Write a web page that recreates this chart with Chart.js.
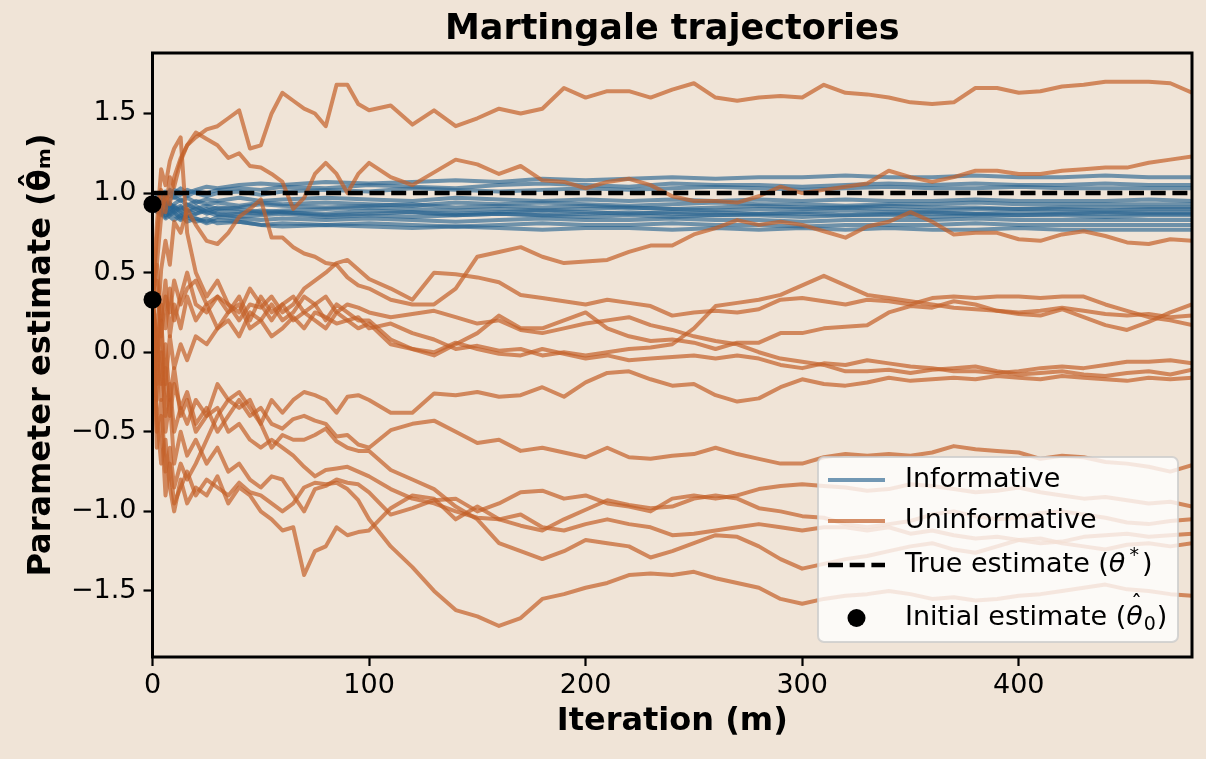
<!DOCTYPE html>
<html lang="en">
<head>
    <meta charset="UTF-8">
    <title>Martingale trajectories</title>
    <style>
        body {
            margin: 0;
            background-color: #f0e4d7;
        }
        #chart {
            display: block;
            background-color: #f0e4d7;
        }
    </style>
</head>
<body>
    <canvas id="chart" width="1206" height="759"></canvas>
    <script src="https://cdn.jsdelivr.net/npm/chart.js@4.4.1/dist/chart.umd.min.js"></script>
    <script>
        const FONT = '"DejaVu Sans", sans-serif';

        // ticks
        const xTicks = [0, 100, 200, 300, 400];
        const yTicks = [-1.5, -1.0, -0.5, 0.0, 0.5, 1.0, 1.5];

        const trueTheta = 1.0;
        const initX = [0, 0];
        const initY = [0.93, 0.33];

        // iterations sampled for the uninformative runs
        const iterU = [0, 2, 4, 6, 8, 10, 13, 16, 20, 25,
            30, 35, 40, 45, 50, 55, 60, 65, 70, 75, 80, 85, 90, 95, 100,
            110, 120, 130, 140, 150, 160, 170, 180, 190, 200, 210, 220, 230, 240, 250, 260, 270, 280, 290,
            300, 310, 320, 330, 340, 350, 360, 370, 380, 390, 400, 410, 420, 430, 440, 450, 460, 470, 480];

        const u1 = [0.33, 0.72, 1.02, 0.88, 1.10, 1.04, 1.20, 1.30, 1.35, 1.40,
            1.42, 1.47, 1.52, 1.28, 1.30, 1.50, 1.63, 1.58, 1.53, 1.50, 1.42, 1.68, 1.68, 1.56, 1.52,
            1.55, 1.43, 1.52, 1.42, 1.47, 1.53, 1.50, 1.53, 1.66, 1.60, 1.64, 1.64, 1.60, 1.65, 1.69, 1.60, 1.58, 1.60, 1.61,
            1.60, 1.68, 1.63, 1.62, 1.60, 1.57, 1.56, 1.57, 1.66, 1.66, 1.63, 1.64, 1.67, 1.68, 1.70, 1.70, 1.70, 1.69, 1.63];
        const u2 = [0.33, 0.55, 0.85, 1.00, 0.93, 1.10, 1.22, 1.30, 1.38, 1.34,
            1.30, 1.22, 1.25, 1.17, 1.16, 1.12, 1.07, 0.90, 0.97, 1.12, 1.19, 1.12, 1.00, 1.12, 1.19,
            1.10, 1.05, 1.13, 1.21, 1.18, 1.12, 1.17, 1.08, 1.07, 1.03, 1.07, 1.09, 1.05, 0.98, 0.95, 0.95, 0.94, 0.98, 1.04,
            1.00, 1.02, 1.04, 1.06, 1.14, 1.10, 1.07, 1.10, 1.14, 1.14, 1.12, 1.12, 1.14, 1.15, 1.16, 1.16, 1.19, 1.21, 1.23];
        const u3 = [0.33, 0.10, 0.52, 0.70, 0.55, 0.82, 0.75, 0.90, 0.80, 0.70,
            0.68, 0.75, 0.85, 0.90, 0.96, 0.72, 0.72, 0.66, 0.62, 0.60, 0.56, 0.55, 0.47, 0.42, 0.40,
            0.33, 0.30, 0.30, 0.40, 0.60, 0.63, 0.66, 0.60, 0.56, 0.57, 0.58, 0.63, 0.67, 0.67, 0.74, 0.78, 0.83, 0.80, 0.82,
            0.80, 0.76, 0.72, 0.79, 0.82, 0.88, 0.82, 0.74, 0.75, 0.75, 0.71, 0.70, 0.74, 0.76, 0.73, 0.69, 0.68, 0.71, 0.70];
        const u4 = [0.33, 0.80, 1.15, 1.05, 1.20, 1.28, 1.35, 0.75, 0.50, 0.35,
            0.45, 0.30, 0.25, 0.40, 0.30, 0.20, 0.30, 0.20, 0.25, 0.20, 0.15, 0.25, 0.20, 0.15, 0.18,
            0.05, 0.02, -0.02, 0.05, 0.12, 0.23, 0.15, 0.15, 0.20, 0.25, 0.15, 0.10, 0.07, 0.08, 0.06, 0.02, 0.06, 0.06, 0.12,
            0.12, 0.15, 0.16, 0.17, 0.25, 0.29, 0.28, 0.32, 0.30, 0.26, 0.24, 0.23, 0.27, 0.22, 0.17, 0.14, 0.19, 0.25, 0.30];
        const u5 = [0.33, 0.00, 0.30, 0.15, 0.40, 0.20, 0.35, 0.50, 0.30, 0.25,
            0.35, 0.30, 0.20, 0.30, 0.28, 0.35, 0.25, 0.30, 0.40, 0.45, 0.50, 0.56, 0.58, 0.52, 0.46,
            0.40, 0.33, 0.50, 0.49, 0.47, 0.44, 0.36, 0.34, 0.32, 0.30, 0.33, 0.31, 0.29, 0.23, 0.25, 0.26, 0.25, 0.27, 0.33,
            0.34, 0.32, 0.30, 0.33, 0.32, 0.30, 0.34, 0.35, 0.34, 0.35, 0.35, 0.34, 0.35, 0.35, 0.30, 0.26, 0.22, 0.20, 0.17];
        const u6 = [0.33, 0.55, 0.20, 0.45, 0.10, 0.30, 0.15, 0.35, 0.20, 0.30,
            0.15, 0.25, 0.30, 0.15, 0.20, 0.10, 0.15, 0.22, 0.15, 0.25, 0.22, 0.18, 0.20, 0.22, 0.15,
            0.18, 0.12, 0.08, 0.02, 0.04, 0.01, 0.02, -0.02, 0.00, -0.02, 0.00, 0.02, 0.03, 0.05, 0.15, 0.29, 0.31, 0.33, 0.36,
            0.42, 0.48, 0.42, 0.36, 0.34, 0.32, 0.30, 0.28, 0.27, 0.26, 0.25, 0.26, 0.28, 0.26, 0.24, 0.23, 0.24, 0.22, 0.23];
        const u7 = [0.33, -0.10, 0.20, -0.20, 0.10, -0.10, 0.05, -0.05, 0.10, 0.05,
            0.15, 0.20, 0.10, 0.25, 0.20, 0.30, 0.20, 0.25, 0.35, 0.30, 0.20, 0.30, 0.25, 0.20, 0.20,
            0.08, 0.02, 0.00, 0.06, 0.02, -0.01, -0.02, 0.02, -0.01, -0.04, -0.02, -0.05, -0.04, -0.03, -0.02, -0.04, -0.02, -0.04, -0.08,
            -0.10, -0.07, -0.08, -0.05, -0.07, -0.09, -0.10, -0.12, -0.12, -0.13, -0.12, -0.10, -0.09, -0.10, -0.08, -0.06, -0.06, -0.05, -0.07];
        const u8 = [0.33, 0.45, 0.10, 0.35, 0.25, 0.45, 0.30, 0.40, 0.45, 0.30,
            0.35, 0.25, 0.35, 0.20, 0.35, 0.25, 0.30, 0.35, 0.25, 0.30, 0.35, 0.25, 0.30, 0.28, 0.25,
            0.22, 0.24, 0.26, 0.22, 0.18, 0.20, 0.14, 0.12, 0.15, 0.18, 0.20, 0.22, 0.17, 0.14, 0.10, 0.07, 0.05, 0.00, -0.04,
            -0.06, -0.08, -0.12, -0.12, -0.11, -0.13, -0.11, -0.10, -0.09, -0.12, -0.14, -0.13, -0.12, -0.14, -0.15, -0.13, -0.12, -0.14, -0.11];
        const u9 = [0.33, -0.30, 0.00, -0.40, -0.20, -0.50, -0.35, -0.45, -0.30, -0.40,
            -0.20, -0.30, -0.25, -0.35, -0.45, -0.30, -0.38, -0.30, -0.25, -0.27, -0.30, -0.38, -0.28, -0.27, -0.30,
            -0.38, -0.38, -0.26, -0.27, -0.25, -0.28, -0.27, -0.22, -0.28, -0.19, -0.13, -0.12, -0.17, -0.21, -0.20, -0.27, -0.31, -0.29, -0.22,
            -0.17, -0.20, -0.21, -0.19, -0.16, -0.18, -0.17, -0.16, -0.17, -0.15, -0.16, -0.17, -0.15, -0.16, -0.17, -0.18, -0.16, -0.17, -0.16];
        const u10 = [0.33, 0.00, -0.30, -0.10, -0.40, -0.20, -0.35, -0.25, -0.45, -0.35,
            -0.50, -0.40, -0.30, -0.40, -0.35, -0.45, -0.48, -0.42, -0.40, -0.43, -0.45, -0.53, -0.52, -0.58, -0.60,
            -0.49, -0.45, -0.43, -0.50, -0.57, -0.55, -0.62, -0.60, -0.63, -0.66, -0.60, -0.66, -0.67, -0.65, -0.64, -0.60, -0.64, -0.67, -0.70,
            -0.70, -0.66, -0.64, -0.65, -0.64, -0.65, -0.63, -0.59, -0.61, -0.62, -0.63, -0.67, -0.65, -0.66, -0.69, -0.70, -0.72, -0.75, -0.71];
        const u11 = [0.33, -0.20, 0.20, -0.50, -0.30, -0.70, -0.50, -0.65, -0.55, -0.70,
            -0.60, -0.75, -0.70, -0.80, -0.85, -0.78, -0.80, -0.90, -1.00, -0.86, -0.84, -0.80, -0.82, -0.83, -0.88,
            -1.02, -0.98, -0.93, -0.92, -1.00, -0.95, -0.88, -0.87, -0.92, -0.90, -0.95, -0.97, -1.00, -0.92, -0.90, -0.92, -0.90, -0.86, -0.84,
            -0.83, -0.84, -0.85, -0.87, -0.86, -0.83, -0.84, -0.86, -0.88, -0.87, -0.85, -0.88, -0.90, -0.92, -0.91, -0.93, -0.95, -0.94, -0.97];
        const u12 = [0.33, 0.10, -0.20, 0.05, -0.30, -0.10, -0.40, -0.30, -0.50, -0.40,
            -0.35, -0.50, -0.45, -0.55, -0.60, -0.55, -0.60, -0.65, -0.72, -0.78, -0.74, -0.73, -0.72, -0.75, -0.78,
            -0.86, -0.92, -0.95, -1.00, -1.04, -1.05, -1.09, -1.12, -1.05, -0.99, -0.93, -0.96, -0.98, -0.97, -0.92, -0.90, -0.92, -0.98, -1.00,
            -1.03, -1.04, -1.08, -1.10, -1.08, -1.06, -1.02, -1.00, -1.03, -1.05, -1.04, -1.01, -1.00, -1.02, -1.04, -1.07, -1.08, -1.06, -1.05];
        const u13 = [0.33, -0.40, -0.70, -0.55, -0.85, -1.00, -0.80, -0.95, -0.85, -0.90,
            -0.78, -0.95, -0.85, -0.90, -1.00, -1.05, -1.12, -1.10, -1.40, -1.25, -1.22, -1.10, -1.15, -1.13, -1.12,
            -0.98, -0.90, -0.92, -1.05, -0.97, -1.05, -1.02, -1.10, -1.12, -1.08, -1.05, -1.08, -1.10, -1.15, -1.14, -1.12, -1.10, -1.08, -1.10,
            -1.12, -1.10, -1.10, -1.12, -1.10, -1.14, -1.12, -1.15, -1.17, -1.16, -1.18, -1.20, -1.19, -1.16, -1.15, -1.14, -1.16, -1.15, -1.14];
        const u14 = [0.33, -0.50, -0.30, -0.75, -0.60, -0.85, -0.70, -0.80, -0.70, -0.55,
            -0.40, -0.30, -0.35, -0.30, -0.45, -0.60, -0.52, -0.55, -0.55, -0.52, -0.48, -0.56, -0.60, -0.62, -0.62,
            -0.74, -0.80, -0.86, -0.97, -1.05, -1.20, -1.25, -1.30, -1.25, -1.18, -1.20, -1.22, -1.29, -1.25, -1.20, -1.15, -1.16, -1.22, -1.30,
            -1.36, -1.33, -1.30, -1.28, -1.25, -1.22, -1.20, -1.24, -1.26, -1.22, -1.18, -1.17, -1.20, -1.22, -1.24, -1.21, -1.20, -1.22, -1.20];
        const u15 = [0.33, -0.60, -0.40, -0.90, -0.70, -0.95, -0.85, -0.75, -0.90, -0.80,
            -0.85, -0.90, -0.82, -0.88, -0.90, -0.95, -1.00, -0.95, -0.85, -0.82, -0.83, -0.82, -0.86, -0.93, -1.05,
            -1.22, -1.35, -1.50, -1.62, -1.66, -1.72, -1.67, -1.55, -1.52, -1.48, -1.45, -1.40, -1.39, -1.40, -1.38, -1.42, -1.45, -1.48, -1.55,
            -1.58, -1.55, -1.53, -1.52, -1.50, -1.52, -1.55, -1.54, -1.56, -1.55, -1.53, -1.52, -1.50, -1.48, -1.46, -1.49, -1.50, -1.52, -1.53];

        // iterations sampled for the informative runs (they settle fast)
        const iterI = [0, 2, 4, 6, 8, 10, 13, 16, 20, 25, 30,
            40, 50, 60,
            80, 100, 120, 140, 160, 180, 200, 220, 240, 260, 280, 300, 320, 340, 360, 380, 400, 420, 440, 460, 480];

        const b1 = [0.93, 0.98, 1.00, 0.97, 1.02, 1.00, 1.03, 1.00, 1.02, 1.04, 1.03,
            1.05, 1.06, 1.05,
            1.07, 1.06, 1.07, 1.08, 1.07, 1.09, 1.08, 1.09, 1.10, 1.09, 1.10, 1.10, 1.11, 1.10, 1.10, 1.11, 1.10, 1.10, 1.11, 1.10, 1.10];
        const b2 = [0.93, 0.96, 0.99, 1.01, 0.98, 1.02, 1.00, 0.98, 1.01, 1.00, 1.02,
            1.03, 1.02, 1.04,
            1.03, 1.05, 1.04, 1.03, 1.05, 1.06, 1.05, 1.04, 1.06, 1.05, 1.05, 1.04, 1.05, 1.06, 1.05, 1.06, 1.05, 1.05, 1.06, 1.05, 1.05];
        const b3 = [0.93, 0.90, 0.95, 0.99, 1.01, 0.97, 0.99, 1.02, 1.00, 0.98, 1.00,
            1.01, 0.99, 1.01,
            1.02, 1.01, 1.03, 1.02, 1.01, 1.02, 1.03, 1.02, 1.03, 1.04, 1.03, 1.02, 1.03, 1.04, 1.03, 1.03, 1.04, 1.03, 1.03, 1.03, 1.03];
        const b4 = [0.93, 0.97, 0.94, 0.92, 0.96, 0.98, 0.95, 0.97, 0.94, 0.96, 0.95,
            0.97, 0.95, 0.96,
            0.97, 0.96, 0.95, 0.97, 0.96, 0.95, 0.96, 0.95, 0.96, 0.95, 0.96, 0.95, 0.96, 0.95, 0.95, 0.96, 0.95, 0.95, 0.95, 0.96, 0.95];
        const b5 = [0.93, 0.91, 0.96, 0.94, 0.90, 0.93, 0.96, 0.92, 0.95, 0.93, 0.94,
            0.92, 0.94, 0.93,
            0.94, 0.93, 0.92, 0.94, 0.93, 0.94, 0.93, 0.92, 0.93, 0.94, 0.93, 0.93, 0.92, 0.93, 0.93, 0.94, 0.93, 0.93, 0.93, 0.93, 0.93];
        const b6 = [0.93, 0.95, 0.90, 0.88, 0.93, 0.91, 0.89, 0.93, 0.90, 0.92, 0.90,
            0.91, 0.93, 0.92,
            0.91, 0.92, 0.93, 0.91, 0.92, 0.91, 0.92, 0.91, 0.90, 0.91, 0.92, 0.91, 0.91, 0.92, 0.91, 0.91, 0.90, 0.91, 0.91, 0.91, 0.91];
        const b7 = [0.93, 0.89, 0.92, 0.95, 0.91, 0.88, 0.91, 0.89, 0.87, 0.89, 0.91,
            0.90, 0.88, 0.89,
            0.90, 0.91, 0.90, 0.89, 0.90, 0.89, 0.90, 0.91, 0.90, 0.89, 0.90, 0.90, 0.91, 0.90, 0.89, 0.90, 0.90, 0.90, 0.89, 0.90, 0.90];
        const b8 = [0.93, 0.96, 0.93, 0.90, 0.87, 0.90, 0.92, 0.88, 0.90, 0.87, 0.89,
            0.88, 0.87, 0.88,
            0.87, 0.89, 0.88, 0.87, 0.88, 0.89, 0.88, 0.87, 0.88, 0.88, 0.87, 0.88, 0.89, 0.88, 0.88, 0.87, 0.88, 0.88, 0.88, 0.88, 0.88];
        const b9 = [0.93, 0.90, 0.87, 0.91, 0.94, 0.89, 0.86, 0.89, 0.92, 0.88, 0.86,
            0.87, 0.89, 0.88,
            0.86, 0.87, 0.88, 0.86, 0.87, 0.86, 0.87, 0.88, 0.87, 0.86, 0.87, 0.87, 0.86, 0.87, 0.87, 0.87, 0.86, 0.87, 0.87, 0.87, 0.87];
        const b10 = [0.93, 0.88, 0.91, 0.86, 0.89, 0.92, 0.88, 0.85, 0.87, 0.90, 0.87,
            0.85, 0.86, 0.87,
            0.85, 0.86, 0.85, 0.86, 0.87, 0.86, 0.85, 0.86, 0.85, 0.86, 0.86, 0.85, 0.86, 0.86, 0.85, 0.86, 0.86, 0.86, 0.85, 0.86, 0.86];
        const b11 = [0.93, 0.92, 0.88, 0.85, 0.88, 0.86, 0.83, 0.86, 0.84, 0.82, 0.85,
            0.84, 0.83, 0.84,
            0.83, 0.84, 0.83, 0.82, 0.83, 0.84, 0.83, 0.83, 0.84, 0.83, 0.83, 0.82, 0.83, 0.83, 0.83, 0.84, 0.83, 0.83, 0.83, 0.83, 0.83];
        const b12 = [0.93, 0.89, 0.86, 0.89, 0.85, 0.83, 0.86, 0.82, 0.84, 0.81, 0.83,
            0.82, 0.80, 0.81,
            0.80, 0.81, 0.80, 0.79, 0.80, 0.81, 0.80, 0.80, 0.81, 0.80, 0.80, 0.79, 0.80, 0.80, 0.80, 0.81, 0.80, 0.80, 0.80, 0.80, 0.80];
        const b13 = [0.93, 0.90, 0.87, 0.84, 0.86, 0.88, 0.84, 0.85, 0.82, 0.84, 0.81,
            0.82, 0.80, 0.79,
            0.80, 0.79, 0.78, 0.79, 0.78, 0.77, 0.78, 0.78, 0.77, 0.78, 0.77, 0.78, 0.77, 0.78, 0.77, 0.77, 0.78, 0.77, 0.77, 0.77, 0.77];

        const uninformative = [u1, u2, u3, u4, u5, u6, u7, u8, u9, u10, u11, u12, u13, u14, u15];
        const informative = [b1, b2, b3, b4, b5, b6, b7, b8, b9, b10, b11, b12, b13];

        const BLUE = 'rgba(40, 100, 145, 0.65)';
        const ORANGE = 'rgba(195, 95, 40, 0.7)';

        function toPoints(xs, ys) {
            return xs.map((x, i) => ({x: x, y: ys[i]}));
        }

        function runDataset(xs, ys, color, order) {
            return {
                data: toPoints(xs, ys),
                borderColor: color,
                borderWidth: 4,
                borderJoinStyle: 'round',
                pointRadius: 0,
                tension: 0,
                order: order
            };
        }

        const datasets = [];
        informative.forEach(ys => datasets.push(runDataset(iterI, ys, BLUE, 3)));
        uninformative.forEach(ys => datasets.push(runDataset(iterU, ys, ORANGE, 2)));
        datasets.push({
            data: [{x: 0, y: trueTheta}, {x: 480, y: trueTheta}],
            borderColor: '#000',
            borderWidth: 4.5,
            borderDash: [15, 6.7],
            pointRadius: 0,
            order: 1
        });
        datasets.push({
            data: toPoints(initX, initY),
            showLine: false,
            pointRadius: 9,
            pointBackgroundColor: '#000',
            pointBorderWidth: 0,
            clip: false,
            order: 0
        });

        // box round the plot area
        const framePlugin = {
            id: 'frame',
            afterDatasetsDraw(chart) {
                const {ctx, chartArea: a} = chart;
                ctx.save();
                ctx.strokeStyle = '#000';
                ctx.lineWidth = 3;
                ctx.strokeRect(a.left, a.top, a.right - a.left, a.bottom - a.top);
                ctx.restore();
            }
        };

        function roundBox(ctx, x, y, w, h, r) {
            ctx.beginPath();
            ctx.moveTo(x + r, y);
            ctx.lineTo(x + w - r, y);
            ctx.arcTo(x + w, y, x + w, y + r, r);
            ctx.lineTo(x + w, y + h - r);
            ctx.arcTo(x + w, y + h, x + w - r, y + h, r);
            ctx.lineTo(x + r, y + h);
            ctx.arcTo(x, y + h, x, y + h - r, r);
            ctx.lineTo(x, y + r);
            ctx.arcTo(x, y, x + r, y, r);
            ctx.closePath();
        }

        // legend inside the lower right corner
        const legendPlugin = {
            id: 'boxLegend',
            afterDraw(chart) {
                const {ctx, chartArea: a} = chart;
                const w = 360, h = 185;
                const x0 = a.right - 14 - w;
                const y0 = a.bottom - 15 - h;
                ctx.save();
                roundBox(ctx, x0, y0, w, h, 6);
                ctx.fillStyle = 'rgba(255, 255, 255, 0.8)';
                ctx.fill();
                ctx.strokeStyle = 'rgba(204, 204, 204, 0.8)';
                ctx.lineWidth = 2;
                ctx.stroke();

                const sx0 = x0 + 10, sx1 = x0 + 67, tx = x0 + 87;
                const rows = [y0 + 23, y0 + 64, y0 + 108, y0 + 161];

                ctx.lineWidth = 4;
                ctx.strokeStyle = BLUE;
                ctx.beginPath(); ctx.moveTo(sx0, rows[0]); ctx.lineTo(sx1, rows[0]); ctx.stroke();
                ctx.strokeStyle = ORANGE;
                ctx.beginPath(); ctx.moveTo(sx0, rows[1]); ctx.lineTo(sx1, rows[1]); ctx.stroke();
                ctx.strokeStyle = '#000';
                ctx.lineWidth = 4.5;
                ctx.setLineDash([15, 6.7]);
                ctx.beginPath(); ctx.moveTo(sx0, rows[2]); ctx.lineTo(sx1, rows[2]); ctx.stroke();
                ctx.setLineDash([]);
                ctx.fillStyle = '#000';
                ctx.beginPath(); ctx.arc((sx0 + sx1) / 2, rows[3], 9, 0, Math.PI * 2); ctx.fill();

                const base = '27px ' + FONT;
                const ital = 'italic 27px ' + FONT;
                const small = '19px ' + FONT;
                ctx.textBaseline = 'middle';
                ctx.textAlign = 'left';
                ctx.font = base;
                ctx.fillText('Informative', tx, rows[0]);
                ctx.fillText('Uninformative', tx, rows[1]);

                let x = tx;
                ctx.fillText('True estimate (', x, rows[2]);
                x += ctx.measureText('True estimate (').width;
                ctx.font = ital;
                ctx.fillText('θ', x, rows[2]);
                x += ctx.measureText('θ').width + 4;
                ctx.font = small;
                ctx.fillText('*', x, rows[2] - 9);
                x += ctx.measureText('*').width + 3;
                ctx.font = base;
                ctx.fillText(')', x, rows[2]);

                x = tx;
                ctx.fillText('Initial estimate (', x, rows[3]);
                x += ctx.measureText('Initial estimate (').width;
                ctx.font = ital;
                const tw = ctx.measureText('θ').width;
                ctx.fillText('θ', x, rows[3]);
                ctx.font = '22px ' + FONT;
                ctx.textAlign = 'center';
                ctx.fillText('ˆ', x + tw / 2 + 2, rows[3] - 14);
                ctx.textAlign = 'left';
                x += tw + 1;
                ctx.font = small;
                ctx.fillText('0', x, rows[3] + 7);
                x += ctx.measureText('0').width + 1;
                ctx.font = base;
                ctx.fillText(')', x, rows[3]);
                ctx.restore();
            }
        };

        Chart.defaults.font.family = FONT;
        Chart.defaults.color = '#000';

        new Chart(document.getElementById('chart'), {
            type: 'line',
            data: { datasets: datasets },
            options: {
                responsive: false,
                animation: false,
                devicePixelRatio: 1,
                layout: { padding: { left: 0, right: 14, top: 0, bottom: 0 } },
                plugins: {
                    legend: { display: false },
                    tooltip: { enabled: false },
                    title: {
                        display: true,
                        fullSize: false,
                        text: 'Martingale trajectories',
                        color: '#000',
                        font: { family: FONT, size: 35, weight: 'bold' },
                        padding: { top: 9, bottom: 2 }
                    }
                },
                scales: {
                    x: {
                        type: 'linear',
                        min: 0,
                        max: 480,
                        afterBuildTicks: s => { s.ticks = xTicks.map(v => ({value: v})); },
                        afterFit: s => { s.height = 102; },
                        border: { display: false },
                        grid: {
                            drawOnChartArea: false,
                            drawTicks: true,
                            tickLength: 9,
                            tickWidth: 2.2,
                            tickColor: '#000'
                        },
                        ticks: {
                            color: '#000',
                            font: { family: FONT, size: 27 },
                            padding: 4,
                            maxRotation: 0,
                            callback: v => String(v)
                        },
                        title: {
                            display: true,
                            text: 'Iteration (m)',
                            color: '#000',
                            font: { family: FONT, size: 32, weight: 'bold' },
                            padding: { top: 0, bottom: 18 }
                        }
                    },
                    y: {
                        type: 'linear',
                        min: -1.915,
                        max: 1.88,
                        afterBuildTicks: s => { s.ticks = yTicks.map(v => ({value: v})); },
                        afterFit: s => { s.width = 152.5; },
                        border: { display: false },
                        grid: {
                            drawOnChartArea: false,
                            drawTicks: true,
                            tickLength: 9,
                            tickWidth: 2.2,
                            tickColor: '#000'
                        },
                        ticks: {
                            color: '#000',
                            font: { family: FONT, size: 27 },
                            padding: 7,
                            callback: v => v.toFixed(1).replace('-', '\u2212')
                        },
                        title: {
                            display: true,
                            text: 'Parameter estimate (θ̂ₘ)',
                            color: '#000',
                            font: { family: FONT, size: 32, weight: 'bold' },
                            padding: { top: 22, bottom: 0 }
                        }
                    }
                }
            },
            plugins: [framePlugin, legendPlugin]
        });
    </script>
</body>
</html>
